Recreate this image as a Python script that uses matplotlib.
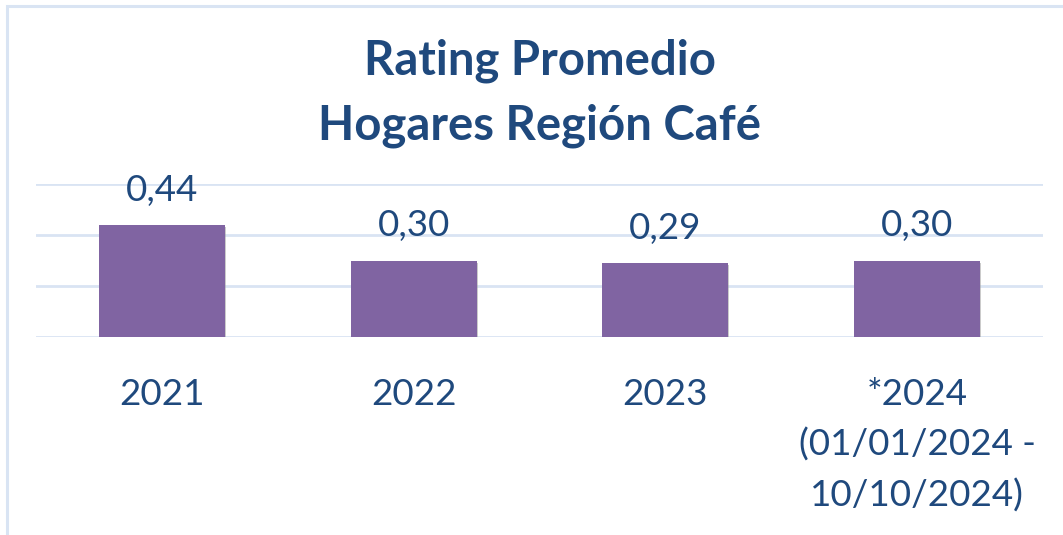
import matplotlib
matplotlib.use('Agg')
import matplotlib.pyplot as plt
from matplotlib.patches import Rectangle
import matplotlib.patheffects as pe

# data
years = ['2021', '2022', '2023', '*2024\n(01/01/2024 -\n10/10/2024)']
rating = [0.44, 0.30, 0.29, 0.30]
value_labels = ['0,44', '0,30', '0,29', '0,30']

title_color = '#1F497D'
bar_color = '#8064A2'
grid_color = '#D9E4F3'

plt.rcParams['font.family'] = ['Lato', 'DejaVu Sans']

fig = plt.figure(figsize=(10.63, 5.35), dpi=100)
ax = fig.add_axes([36 / 1063, 1 - 337 / 535, (1043 - 36) / 1063, (337 - 184) / 535])

# light border like the spreadsheet chart frame
fig.patches.append(Rectangle((7 / 1063, -0.1), 1.2, 1 - 6 / 535 + 0.1, transform=fig.transFigure,
                             fill=False, edgecolor=grid_color, linewidth=2.2))

x = range(len(years))
bars = ax.bar(x, rating, width=0.5, color=bar_color, zorder=3,
              path_effects=[pe.SimplePatchShadow(offset=(0.8, -1.5), shadow_rgbFace='#999999', alpha=0.5),
                            pe.Normal()])

ax.set_xlim(-0.5, len(years) - 0.5)
ax.set_ylim(0, 0.6)
ax.set_yticks([0, 0.2, 0.4, 0.6])
ax.yaxis.grid(True, color=grid_color, linewidth=2)
ax.set_axisbelow(True)
for s in ax.spines.values():
    s.set_visible(False)
ax.tick_params(left=False, bottom=False, labelleft=False)
ax.set_xticks(list(x))
ax.set_xticklabels(years, fontsize=26.5, color=title_color, linespacing=1.6, va='top')
ax.tick_params(axis='x', pad=26)

for i, lab in enumerate(value_labels):
    ax.annotate(lab, (i, rating[i]), xytext=(0, 13), textcoords='offset points',
                ha='center', va='bottom', fontsize=26.5, color=title_color)

fig.text(540 / 1063, 1 - 61 / 535, 'Rating Promedio', ha='center', va='center',
         fontsize=34, fontweight='bold', color=title_color)
fig.text(540 / 1063, 1 - 126 / 535, 'Hogares Región Café', ha='center', va='center',
         fontsize=34, fontweight='bold', color=title_color)

fig.savefig('out.png', dpi=100)
